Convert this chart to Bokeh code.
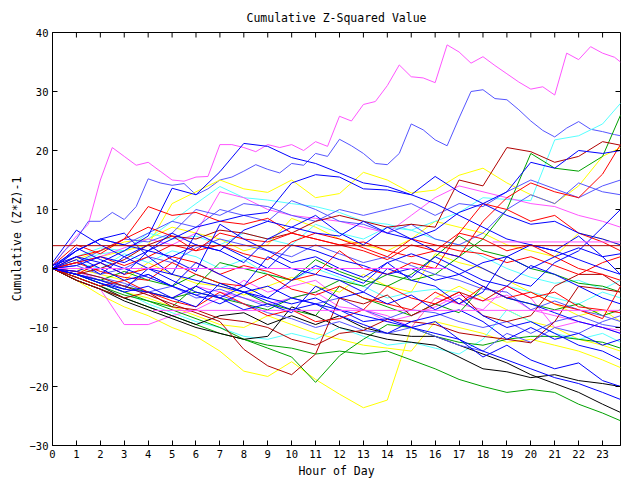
from bokeh.plotting import figure
from bokeh.models import FixedTicker, Range1d
from bokeh.embed import file_html
from bokeh.resources import INLINE

# ---------------- data ----------------
HOURS = list(range(24)) + [23.75]
HALF_HOURS = [i * 0.5 for i in range(48)] + [23.75]
X_TICKS = list(range(24))
Y_TICKS = [-30, -20, -10, 0, 10, 20, 30, 40]

# half-hour series (the two highest curves)
mag_top = [0.5, 3, 5.5, 7.5, 15, 20.5, 19, 17.5, 18, 16.5, 15, 14.8, 15.5, 15.6, 21, 21, 20.5, 19.8,
           21, 20.5, 21, 20, 21.5, 20.7, 25.8, 25, 27.8, 28.3, 31, 34.5, 32.5, 32.3, 31.5, 37.9, 36.7,
           34.8, 35.9, 34.4, 33, 31.6, 30.4, 30.8, 29.4, 36.5, 35.4, 37.6, 36.5, 35.8, 35.0]
mblue_top = [0.5, 3, 5, 8, 8, 9.5, 8.3, 10.5, 15.2, 14.5, 14.1, 14.4, 12.5, 13.5, 15, 15.5, 16.5, 17.6,
             16.8, 16.2, 17.8, 17.5, 19.5, 19, 21.9, 20.8, 19.5, 17.8, 17.6, 19.5, 24.5, 23.5, 21.8,
             20.8, 25.5, 30, 30.3, 28.8, 28.6, 26.9, 25, 23.4, 22.3, 23.8, 24.9, 23.6, 23.2, 22.7, 22.5]

# hourly series
blue_a = [0.5, 2, 1, 3, 5.5, 13.6, 12.5, 16.4, 21.2, 20.7, 18.8, 17.8, 16.2, 14.5, 13.9, 12.5, 15.6, 13, 11, 9, 7.5, 8, 6, 5, 4]
blue_b = [0, 3, 5, 4, 3, 5, 7, 8, 9, 9.5, 14.5, 15.9, 15.5, 13.5, 13.3, 12.5, 11, 9, 7, 5, 4, 3, 1.5, 0, -1]
blue_c = [1, 6.5, 4, 2, 0, -1, -2, -3, -4, -3, -5, -6, -7, -8, -9, -10, -11, -12, -14, -15.5, -17, -18.5, -19.5, -21, -22.2]
blue_d = [0, -1, -2.5, -3.5, 0, -2, -4, -5, -3, -5, -6, -5, -7, -9, -8.5, -10, -9, -12, -15, -13, -15.5, -17, -16, -19, -20]
blue_e = [0.5, 3, 5, 6, 2, -1, 6, 4, 2, 0, 4, 3, 1.5, 0.5, -1, 0, -2, -1, -3, -5, -6, -7.5, -9, -10, -11]
blue_f = [0, 1.5, -1, 2, 4, 1.5, -0.5, 7.5, 5, 3, 1, 2, 0, -1.5, 1, -2, -3, -6, -4, 2, 4, 3, 5.5, 2, -1]
blue_g = [0, -0.5, 1, -1, 3, 6, 4, 3, 6.5, 8, 7, 9, 6, 4, 7, 5, 3, 2, 0, -2, -3, 1, 3, 7, 10]
blue_h = [0, -1, -2, -3.5, -4, -5, -3, -5, -7, -6, -7.5, -3, -5, -4, -6, -4.5, -7, -5, -8, -10, -9, -11, -13, -14, -15.5]
blue_i = [0, 2, 0, -2, -1, -3, 1, -1, -3, 2, 0, -1, -2, -4, 0, -1.5, 2, 0, -2, -3, 0.5, -1, -3, -5, -6]
blue_j = [0, 0.5, 2, 1, 3, 2, 4, 3, 1, 5, 7, 6, 5.5, 8, 6, 5, 6.5, 9.5, 11, 13, 18, 17, 20, 19.5, 20]
blue_k = [0, -1, -2.5, -4, -3, -5, -6.5, -2.5, -4, -5.5, -7, -6, -8, -9.5, -11, -9, -8, -7, -9, -12, -10, -12, -11, -13, -12]
blue_l = [0, 3.5, 1.5, 0, -1.5, -3, -4.5, -6, -4, -5, -2, 0.5, -1, -2.5, 1, 2.5, 1, -1, 1, 2, 0, 2, 3.5, 2, 2.5]
mblue_a = [0, 1, 3, 5, 4.5, 6, 10, 9, 11, 10.5, 9, 8, 10, 9, 10, 11, 9, 11, 10.5, 13, 15, 13.5, 12, 14, 15]
mblue_b = [0, 0.5, -1, 0, 2, 1, 3.5, 5, 4, 3, 2, 4, 2.5, 1, 2, 0.5, -1, -2, -3.5, -4, -7, -5.5, -7, -8, -9]
mblue_c = [0, -0.5, -1.5, -2.5, -4, -3, -5, -4.5, -6, -7.5, -8.5, -10, -9, -10.5, -11, -10, -11.5, -13, -14, -11, -12.5, -10, -11, -9, -8]
mblue_d = [0, 3, 5, 4, 6, 8, 7, 10, 9, 8, 11.5, 10, 8, 7.5, 6, 7.5, 5, 4, 6, 10, 12.5, 11, 14.5, 13, 12.5]
mblue_e = [0, -1, -2, -3, -1, -3, -4.5, -3.5, -5, -6.5, -5, -6, -5, -7, -8.5, -7, -7.5, -9, -10, -9, -11, -9, -8, -9.5, -10]
red_a = [0, 2, 3, 5, 10.5, 9, 9.5, 8, 7.5, 8.5, 6, 5, 4, 4.5, 3, 2, 3, 6, 5, 3, 4, 2, 0, -1, -2]
red_b = [0, -1, 1, -1, 0, 2, 1, -1, 0.5, -0.5, -2, -1, 3, 0, -1, 1, 0, 6, 11, 10, 8, 9, 6, 4.5, 3]
red_c = [0, 1, -0.5, -1.5, -2, 1, -1, -2.5, -3, -1, -3.5, -4.5, -3, -5, -6, -7, -4, -6, -3, -5, -4, -6, -7, -8.5, -3]
red_d = [0.5, 4, 2.5, 5, 7, 5.5, 3, 4, 2.5, 1.5, 4.5, 6, 5, 3.5, 2, 5, 4, 3, 2.5, 1, 2, 0.5, -1, 1, 2]
red_e = [0, -1.5, -3, -2, -4, -5.5, -6.5, -4, -6, -8, -7, -9, -8.5, -7, -3, -5, -6, -4, -5.5, -3, -5, -4, -6.5, -7, -7.5]
red_f = [0, 1, 2, 0.5, 2, 4, 3, 6, 5, 4.5, 6, 5, 4, 3, 1.5, 4, 3, 2, 8, 12, 14.5, 13, 12, 16, 21]
dred_a = [0, -1, 0, 1.5, 4, 5.5, 5, 6.5, 6, 5, 6, 8, 9, 8, 7, 7.5, 7, 15, 14, 20.5, 19.8, 18, 19, 21.5, 20.9]
dred_b = [0, -0.5, -1.5, -3, -4.5, -6, -7.5, -9, -13.7, -16.5, -18, -14.5, -5, -6, -4.5, -8, -6, -4, -8, -9, -8, -3, -1, -1, -3]
dred_c = [0, -2, -3.5, -5, -4, -6.5, -7, -8.5, -9, -10, -12, -13, -11, -10.5, -8.6, -9, -9.5, -10.9, -11.5, -12, -12.6, -9, -3, -3.5, -4]
green_a = [0, -2, -3.5, -5, -6.5, -8, -9.5, -11, -12, -13, -13.5, -14.5, -14, -14.5, -14, -15.5, -17, -18.8, -20, -21, -20.5, -21, -23, -24.5, -25.8]
green_b = [0, -1, -2, -3, -4, -5, -4, -5, -6, -7, -5, -4, -2, -3, -1, -2, -1, 2, 5, 10, 19.5, 17, 16.5, 19, 26]
green_c = [0, -1.5, -3, -4.5, -5.5, -7, -8.5, -10, -12, -13.5, -15, -19.3, -14.8, -12, -9.5, -10, -11.5, -12.5, -13, -12, -11.5, -11.5, -12, -12.5, -13.5]
green_d = [0, -1, -2, -0.5, -2, -3, -1, -2.5, -4, -6, -7, -8, -3, -5, -6.5, -8, -6, -7.5, -3, -5, -6, -7, -6, -8, -7]
green_e = [0, -1, -2.5, -4, -5.5, -6.5, -3, 1, 0, -1, -2, 1.5, -0.5, -2, -3, -1, 2, 5.5, 3, 2, 0, -1, -2.5, -3, -4]
black_a = [0, -1.5, -3, -5, -6.5, -8, -9.5, -8, -7.5, -9.5, -8, -9.5, -8, -10, -11, -11.5, -11.5, -13, -14.5, -16, -18, -19.5, -21, -23, -24.4]
black_b = [0, -2, -3.5, -5.5, -7, -8.5, -10, -11, -12, -11.5, -6.5, -8, -10, -11, -12, -12.5, -13, -15, -17, -17.5, -18.5, -18, -19, -19.5, -20]
mag_a = [0, -2, -3.5, -9.5, -9.5, -8, -7, -5, -2, -4, -3, -2, -5, -7, -8, -10, -5, -6, -7, -3, -5, -10, -9, -10, -11]
mag_b = [0, 1, 2, 3.5, 5, 4, 6, 13, 12, 10, 9, 8.5, 8, 7, 6, 9, 12, 14, 13, 12, 11, 10.5, 9, 8, 7]
mag_c = [0, -0.5, -2, -3, -4, -5, -3, -4, -5, -6, -5, -4, -6.5, -7, -9, -8, -6.5, -4.5, -5.5, -4.5, -7, -8, -9, -10, -10.5]
cyan_a = [0, 1, 2.5, 3, 5, 8, 11, 13.9, 12, 11.6, 11, 10.5, 9.5, 8, 7.5, 6.5, 8, 9.5, 12, 11.7, 11.5, 21.8, 22.5, 24.5, 28]
cyan_b = [0, -1, -2.5, -4, -6, -7.5, -9, -10, -11.5, -12, -11, -12, -10, -11.5, -13, -12.5, -13.5, -14.5, -12, -7, -9, -11, -12, -11, -12.5]
cyan_c = [0, 1, 0, 2.5, 1, 3, 2, 0, 1.5, -1, -2, 0, -1.5, -3, -5, -4, -3.5, -4, -5.5, -3, -4, -5, -6, -4, -5]
cyan_d = [0, 2, 3.5, 3, 6, 5, 5.5, 4, 6, 5, 4, 7.5, 6, 5, 7, 6.5, 5, 4, 2, 0, -1.5, -2.5, -2, -3.5, -2]
yellow_a = [0, 1, 2, 3, 4, 11, 13, 15, 13.5, 12.9, 15, 12, 12.7, 16.3, 15, 12.8, 13.3, 15.8, 17, 14.5, 12.5, 11, 14, 19, 20.5]
yellow_b = [0, -2, -4.5, -6.5, -8, -10, -11.5, -14, -17.4, -18.3, -15.8, -18.8, -21.3, -23.6, -22.3, -10, -5, -3, -5, -7, -9, -10, -12, -13, -14]
yellow_c = [0, 1.5, 3, 4.5, 5, 7, 6, 5, 3, 4, 8.5, 7, 5, 4, 3, 5, 8, 7, 6, 4, 3, 2, 6, 5, 4]
yellow_d = [0, -1, -2.5, -4, -5, -6.5, -8, -9.5, -10, -8, -9.5, -11, -12, -13, -13.5, -14, -9, -10, -11, -12.5, -12, -13, -14, -15.5, -16.8]
yellow_e = [0, 0, -1, -2, 1, -1, -2.5, -3, -4.5, -3, -1.5, -3, -4, -1, -3, -4, 2.5, 1, 0, -2, -4, -6, -8, -7, -9]

# flat segments (hour span, level)
flat_dred_x = [0, 23.75]
flat_dred_y = [3.87, 3.87]
flat_mag_a_x = [0, 16.5]
flat_mag_a_y = [0, 0]
flat_mag_b_x = [4.2, 23.75]
flat_mag_b_y = [-7.1, -7.1]
flat_mag_c_x = [18.4, 23.75]
flat_mag_c_y = [4.5, 4.5]

X_MIN, X_MAX = 0, 23.75
Y_MIN, Y_MAX = -30, 40

# ---------------- styles ----------------
BLUE = "#0000ff"
MBLUE = "#5555ff"
RED = "#ff0000"
DRED = "#b00000"
GREEN = "#00a000"
BLACK = "#000000"
MAG = "#ff55ff"
CYAN = "#55ffff"
YEL = "#ffff00"

hourly = [
    (yellow_b, YEL), (yellow_d, YEL), (yellow_e, YEL), (yellow_c, YEL), (yellow_a, YEL),
    (cyan_b, CYAN), (cyan_c, CYAN), (cyan_d, CYAN), (cyan_a, CYAN),
    (mag_a, MAG), (mag_c, MAG), (mag_b, MAG),
    (green_a, GREEN), (green_c, GREEN), (green_d, GREEN), (green_e, GREEN), (green_b, GREEN),
    (black_a, BLACK), (black_b, BLACK),
    (mblue_a, MBLUE), (mblue_b, MBLUE), (mblue_c, MBLUE), (mblue_d, MBLUE), (mblue_e, MBLUE),
    (dred_b, DRED), (dred_c, DRED), (dred_a, DRED),
    (red_a, RED), (red_b, RED), (red_c, RED), (red_d, RED), (red_e, RED), (red_f, RED),
    (blue_a, BLUE), (blue_b, BLUE), (blue_c, BLUE), (blue_d, BLUE), (blue_e, BLUE), (blue_f, BLUE),
    (blue_g, BLUE), (blue_h, BLUE), (blue_i, BLUE), (blue_j, BLUE), (blue_k, BLUE), (blue_l, BLUE),
]
halfhourly = [(mag_top, MAG), (mblue_top, MBLUE)]
flats = [(flat_mag_a_x, flat_mag_a_y, MAG), (flat_mag_b_x, flat_mag_b_y, MAG),
         (flat_mag_c_x, flat_mag_c_y, MAG), (flat_dred_x, flat_dred_y, DRED)]

FONT = "DejaVu Sans Mono"

p = figure(width=640, height=480, output_backend="svg", toolbar_location=None,
           x_range=Range1d(X_MIN, X_MAX), y_range=Range1d(Y_MIN, Y_MAX),
           min_border_left=52, min_border_right=20, min_border_top=32, min_border_bottom=30)

p.title.text = "Cumulative Z-Squared Value"
p.title.align = "center"
p.title.text_font = FONT
p.title.text_font_size = "11.5px"
p.title.text_font_style = "normal"
p.title.text_color = "black"
p.title.standoff = 16

for ys, c in halfhourly:
    p.line(HALF_HOURS, ys, line_color=c, line_width=1)
for ys, c in hourly:
    p.line(HOURS, ys, line_color=c, line_width=1)
for xs, ys, c in flats:
    p.line(xs, ys, line_color=c, line_width=1)

# mirrored inward tick marks on the top and right frame edges (clipped half of a dash marker)
p.scatter(X_TICKS, [Y_MAX] * len(X_TICKS), marker="dash", angle=1.5707963, size=10,
          line_color="black", line_width=1)
p.scatter([X_MAX] * len(Y_TICKS), Y_TICKS, marker="dash", size=10,
          line_color="black", line_width=1)

p.xgrid.visible = False
p.ygrid.visible = False
p.outline_line_color = "black"

p.xaxis.ticker = FixedTicker(ticks=X_TICKS)
p.yaxis.ticker = FixedTicker(ticks=Y_TICKS)
p.xaxis.axis_label = "Hour of Day"
p.yaxis.axis_label = "Cumulative (Z*Z)-1"

for ax in [p.xaxis[0], p.yaxis[0]]:
    ax.major_tick_in = 5
    ax.major_tick_out = 0
    ax.minor_tick_line_color = None
    ax.axis_line_color = "black"
    ax.major_tick_line_color = "black"
    ax.major_label_text_font = FONT
    ax.major_label_text_font_size = "10.5px"
    ax.major_label_text_color = "black"
    ax.axis_label_text_font = FONT
    ax.axis_label_text_font_size = "11.5px"
    ax.axis_label_text_font_style = "normal"
    ax.axis_label_text_color = "black"
    ax.major_label_standoff = 4
    ax.axis_label_standoff = 3

open("out.html", "w").write(file_html(p, INLINE))
